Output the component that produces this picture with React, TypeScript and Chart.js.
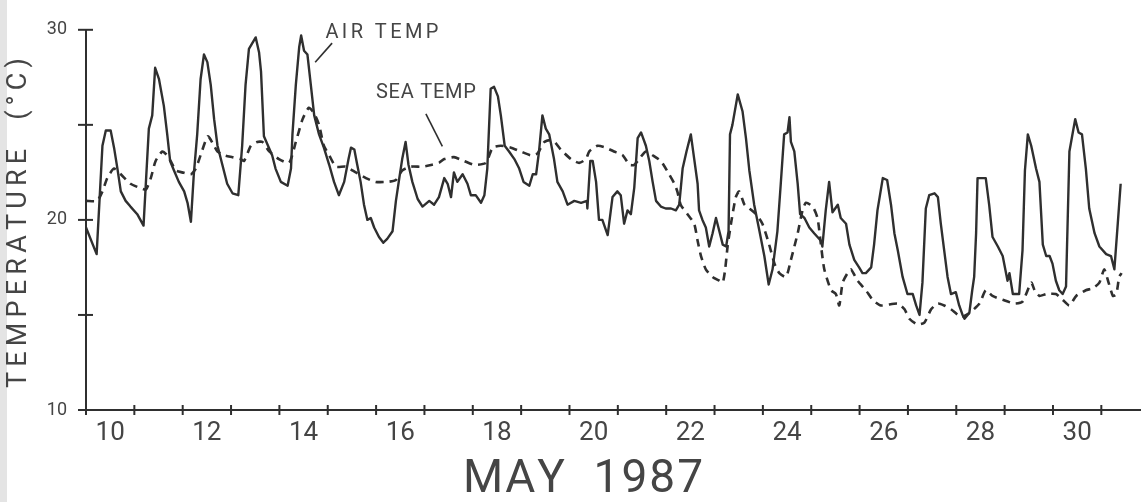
import React, { useEffect, useRef } from 'react';
import { Chart, registerables } from 'chart.js';

Chart.register(...registerables);

// ---- Data (day of May 1987 as decimal, temperature in °C) ----
const airDays = [
  10.0, 10.22, 10.34, 10.41, 10.51, 10.58, 10.65, 10.72, 10.82, 10.92, 11.06, 11.19,
  11.3, 11.37, 11.43, 11.51, 11.61, 11.68, 11.74, 11.82, 11.92, 12.03, 12.1, 12.17,
  12.23, 12.3, 12.37, 12.44, 12.51, 12.58, 12.65, 12.72, 12.82, 12.92, 13.03, 13.15,
  13.23, 13.3, 13.37, 13.51, 13.58, 13.62, 13.68, 13.85, 13.92, 14.03, 14.17, 14.24,
  14.27, 14.34, 14.41, 14.45, 14.51, 14.58, 14.65, 14.72, 14.82, 14.92, 15.03, 15.13,
  15.23, 15.34, 15.43, 15.48, 15.55, 15.61, 15.68, 15.75, 15.82, 15.89, 15.96, 16.06,
  16.15, 16.23, 16.34, 16.41, 16.48, 16.54, 16.61, 16.67, 16.75, 16.86, 16.96, 17.1,
  17.2, 17.3, 17.41, 17.48, 17.55, 17.61, 17.68, 17.79, 17.89, 17.96, 18.06, 18.17,
  18.24, 18.3, 18.37, 18.44, 18.52, 18.58, 18.66, 18.75, 18.86, 18.96, 19.05, 19.17,
  19.24, 19.31, 19.37, 19.44, 19.51, 19.58, 19.68, 19.75, 19.86, 19.96, 20.1, 20.24,
  20.36, 20.37, 20.43, 20.48, 20.55, 20.61, 20.68, 20.79, 20.89, 20.99, 21.06, 21.13,
  21.2, 21.27, 21.34, 21.41, 21.48, 21.58, 21.65, 21.72, 21.79, 21.89, 21.99, 22.1,
  22.2, 22.27, 22.34, 22.42, 22.51, 22.58, 22.65, 22.68, 22.75, 22.82, 22.89, 22.96,
  23.03, 23.1, 23.17, 23.24, 23.29, 23.32, 23.37, 23.48, 23.58, 23.65, 23.72, 23.82,
  23.93, 24.03, 24.12, 24.2, 24.3, 24.37, 24.44, 24.51, 24.55, 24.58, 24.65, 24.72,
  24.77, 24.86, 24.96, 25.06, 25.2, 25.23, 25.3, 25.37, 25.44, 25.55, 25.61, 25.72,
  25.79, 25.89, 25.99, 26.06, 26.13, 26.24, 26.3, 26.37, 26.48, 26.57, 26.65, 26.72,
  26.79, 26.89, 26.99, 27.1, 27.17, 27.24, 27.3, 27.37, 27.44, 27.55, 27.62, 27.68,
  27.75, 27.82, 27.89, 27.99, 28.06, 28.13, 28.17, 28.27, 28.33, 28.37, 28.41, 28.44,
  28.51, 28.61, 28.68, 28.75, 28.86, 28.96, 29.06, 29.1, 29.17, 29.3, 29.37, 29.42,
  29.48, 29.55, 29.65, 29.72, 29.79, 29.86, 29.93, 29.99, 30.06, 30.13, 30.2, 30.27,
  30.34, 30.41, 30.46, 30.53, 30.6, 30.68, 30.75, 30.86, 30.96, 31.1, 31.2, 31.27,
  31.34, 31.4,
];
const airTemps = [
  19.6, 18.2, 23.9, 24.7, 24.7, 23.8, 22.7, 21.5, 21.0, 20.7, 20.3, 19.7,
  24.8, 25.5, 28.0, 27.4, 26.0, 24.5, 23.1, 22.6, 22.0, 21.5, 20.9, 19.9,
  22.4, 24.5, 27.4, 28.7, 28.3, 27.1, 25.3, 23.9, 22.9, 21.9, 21.4, 21.3,
  23.9, 27.1, 29.0, 29.6, 28.8, 27.8, 24.4, 23.4, 22.7, 22.0, 21.8, 22.7,
  24.5, 27.1, 29.1, 29.7, 28.9, 28.7, 27.1, 25.5, 24.5, 23.8, 22.9, 22.0,
  21.3, 22.0, 23.2, 23.8, 23.7, 22.9, 22.0, 20.8, 20.0, 20.1, 19.6, 19.1,
  18.8, 19.0, 19.4, 21.0, 22.2, 23.2, 24.1, 22.9, 22.0, 21.1, 20.7, 21.0,
  20.8, 21.2, 22.2, 21.9, 21.2, 22.5, 22.0, 22.4, 21.9, 21.3, 21.3, 20.9,
  21.3, 22.7, 26.9, 27.0, 26.5, 25.5, 23.9, 23.6, 23.2, 22.7, 22.0, 21.8,
  22.4, 22.4, 23.6, 25.5, 24.8, 24.5, 23.2, 22.0, 21.5, 20.8, 21.0, 20.9,
  21.0, 20.6, 23.1, 23.1, 22.0, 20.0, 20.0, 19.2, 21.2, 21.5, 21.3, 19.8,
  20.5, 20.3, 21.7, 24.3, 24.6, 23.9, 23.1, 22.0, 21.0, 20.7, 20.6, 20.6,
  20.5, 20.8, 22.7, 23.6, 24.5, 23.2, 21.9, 20.5, 20.0, 19.6, 18.6, 19.3,
  20.1, 19.4, 18.7, 18.6, 19.4, 24.5, 25.0, 26.6, 25.7, 24.3, 22.6, 20.8,
  19.4, 18.1, 16.6, 17.4, 19.4, 21.9, 24.5, 24.6, 25.4, 24.1, 23.6, 21.9,
  20.3, 20.1, 19.6, 19.3, 18.9, 18.6, 20.5, 22.0, 20.4, 20.8, 20.1, 19.8,
  18.7, 17.9, 17.5, 17.2, 17.2, 17.5, 18.7, 20.5, 22.2, 22.1, 20.8, 19.3,
  18.4, 17.0, 16.1, 16.1, 15.5, 15.0, 16.7, 20.6, 21.3, 21.4, 21.2, 19.8,
  18.4, 17.0, 16.1, 16.2, 15.5, 15.0, 14.8, 15.1, 16.3, 17.0, 19.3, 22.2,
  22.2, 22.2, 20.8, 19.1, 18.6, 18.1, 16.8, 17.2, 16.1, 16.1, 18.4, 22.6,
  24.5, 23.9, 22.7, 22.0, 18.7, 18.1, 18.1, 17.7, 16.8, 16.3, 16.1, 16.5,
  23.6, 24.6, 25.3, 24.6, 24.5, 22.7, 20.6, 19.3, 18.6, 18.2, 18.1, 17.4,
  19.8, 21.9,
];

const seaDays = [
  10.0, 10.23, 10.34, 10.44, 10.58, 10.72, 10.92, 11.1, 11.24, 11.34, 11.44, 11.58,
  11.68, 11.75, 11.86, 11.99, 12.17, 12.27, 12.37, 12.52, 12.65, 12.72, 12.86, 13.03,
  13.2, 13.27, 13.41, 13.54, 13.65, 13.79, 13.99, 14.2, 14.34, 14.48, 14.61, 14.72,
  14.82, 14.92, 15.03, 15.17, 15.37, 15.58, 15.79, 15.99, 16.23, 16.41, 16.54, 16.72,
  16.96, 17.16, 17.3, 17.41, 17.61, 17.82, 18.03, 18.27, 18.41, 18.58, 18.79, 18.99,
  19.2, 19.34, 19.48, 19.65, 19.82, 20.03, 20.2, 20.34, 20.41, 20.58, 20.75, 20.92,
  21.1, 21.24, 21.34, 21.44, 21.58, 21.72, 21.89, 22.06, 22.17, 22.23, 22.3, 22.44,
  22.58, 22.65, 22.72, 22.82, 22.96, 23.1, 23.17, 23.22, 23.27, 23.34, 23.44, 23.51,
  23.62, 23.72, 23.86, 23.99, 24.13, 24.24, 24.34, 24.48, 24.58, 24.72, 24.82, 24.89,
  25.03, 25.13, 25.2, 25.27, 25.41, 25.51, 25.58, 25.65, 25.75, 25.82, 25.96, 26.13,
  26.27, 26.44, 26.79, 26.93, 27.03, 27.2, 27.34, 27.48, 27.62, 27.75, 27.89, 28.1,
  28.27, 28.48, 28.61, 28.75, 28.96, 29.2, 29.37, 29.55, 29.62, 29.72, 29.86, 30.06,
  30.2, 30.34, 30.48, 30.68, 30.82, 30.96, 31.06, 31.15, 31.24, 31.31, 31.37, 31.42,
];
const seaTemps = [
  21.0, 21.0, 21.5, 22.2, 22.7, 22.4, 21.9, 21.7, 21.6, 22.2, 23.1, 23.6,
  23.4, 23.1, 22.6, 22.5, 22.4, 22.7, 23.4, 24.4, 23.9, 23.6, 23.4, 23.3,
  23.2, 23.1, 23.9, 24.1, 24.1, 23.6, 23.2, 23.0, 24.1, 25.3, 25.9, 25.6,
  25.0, 23.9, 23.4, 22.8, 22.8, 22.5, 22.2, 22.0, 22.0, 22.1, 22.6, 22.8,
  22.8, 22.9, 23.0, 23.2, 23.3, 23.1, 22.9, 23.0, 23.8, 23.9, 23.8, 23.6,
  23.4, 23.5, 24.1, 24.2, 23.7, 23.2, 23.0, 23.2, 23.6, 23.9, 23.8, 23.6,
  23.4, 22.9, 22.9, 23.2, 23.6, 23.4, 23.1, 22.4, 21.9, 21.5, 20.8, 20.3,
  19.8, 18.9, 18.1, 17.4, 17.0, 16.8, 16.7, 17.4, 18.6, 19.8, 21.2, 21.5,
  20.8, 20.6, 20.3, 19.8, 18.7, 17.7, 17.2, 17.0, 17.9, 19.3, 20.5, 20.9,
  20.7, 20.1, 18.7, 17.4, 16.3, 16.1, 15.5, 16.7, 17.2, 17.4, 16.8, 16.3,
  15.8, 15.5, 15.6, 15.3, 14.8, 14.5, 14.6, 15.3, 15.6, 15.5, 15.3, 14.9,
  15.1, 15.6, 16.3, 16.0, 15.8, 15.6, 15.7, 16.7, 16.3, 16.0, 16.1, 16.1,
  15.8, 15.5, 16.0, 16.3, 16.4, 16.7, 17.4, 16.7, 16.0, 16.1, 17.0, 17.2,
];

const yTickMarks = [10, 15, 20, 25, 30];
const yLabelled = [10, 20, 30];
const dayBoundaries = [10, 11, 12, 13, 14, 15, 16, 17, 18, 19, 20, 21, 22, 23, 24, 25, 26, 27, 28, 29, 30, 31];
const dayLabels = ['10', '12', '14', '16', '18', '20', '22', '24', '26', '28', '30'];

const INK = '#2f2f2f';
const TEXT = '#454545';
const FONT = "Roboto, 'DejaVu Sans', sans-serif";

function spacedText(ctx: CanvasRenderingContext2D, text: string, cx: number, cy: number, width: number) {
  const chars = Array.from(text);
  const widths = chars.map((c) => ctx.measureText(c).width);
  const sum = widths.reduce((a, b) => a + b, 0);
  const gap = chars.length > 1 ? (width - sum) / (chars.length - 1) : 0;
  let x = cx - width / 2;
  ctx.textAlign = 'left';
  ctx.textBaseline = 'middle';
  chars.forEach((c, i) => {
    ctx.fillText(c, x, cy);
    x += widths[i] + gap;
  });
}

const decorPlugin = {
  id: 'decor',
  afterDraw(chart: any) {
    const ctx: CanvasRenderingContext2D = chart.ctx;
    const xs = chart.scales.x;
    const ys = chart.scales.y;
    const area = chart.chartArea;
    ctx.save();
    ctx.strokeStyle = INK;
    ctx.lineWidth = 2;
    // y tick marks crossing the axis
    yTickMarks.forEach((v) => {
      const py = ys.getPixelForValue(v);
      ctx.beginPath();
      ctx.moveTo(area.left - 8, py);
      ctx.lineTo(area.left + 7, py);
      ctx.stroke();
    });
    // x tick marks at day boundaries
    dayBoundaries.forEach((d) => {
      const px = xs.getPixelForValue(d);
      ctx.beginPath();
      ctx.moveTo(px, area.bottom - 5);
      ctx.lineTo(px, area.bottom + 5);
      ctx.stroke();
    });

    ctx.fillStyle = TEXT;
    // Y axis title
    ctx.save();
    ctx.translate(19, 223);
    ctx.rotate(-Math.PI / 2);
    ctx.font = `400 27px ${FONT}`;
    spacedText(ctx, 'TEMPERATURE  (°C)', 0, 0, 330);
    ctx.restore();

    // X axis title
    ctx.font = `400 46px ${FONT}`;
    spacedText(ctx, 'MAY  1987', 583, 480, 240);

    // Annotations
    const ann = [
      { text: 'AIR TEMP', x: 16.12, y: 29.85, w: 113, from: [15.09, 29.3], to: [14.74, 28.29] },
      { text: 'SEA TEMP', x: 17.03, y: 26.68, w: 100, from: [17.03, 25.58], to: [17.37, 23.87] },
    ];
    ctx.font = `400 20px ${FONT}`;
    ann.forEach((a) => {
      spacedText(ctx, a.text, xs.getPixelForValue(a.x), ys.getPixelForValue(a.y), a.w);
      ctx.lineWidth = 1.6;
      ctx.beginPath();
      ctx.moveTo(xs.getPixelForValue(a.from[0]), ys.getPixelForValue(a.from[1]));
      ctx.lineTo(xs.getPixelForValue(a.to[0]), ys.getPixelForValue(a.to[1]));
      ctx.stroke();
    });
    ctx.restore();
  },
};

export default function App() {
  const ref = useRef<HTMLCanvasElement | null>(null);

  useEffect(() => {
    if (!ref.current) return;
    const chart = new Chart(ref.current, {
      type: 'line',
      data: {
        datasets: [
          {
            label: 'AIR TEMP',
            data: airDays.map((d, i) => ({ x: d, y: airTemps[i] })),
            borderColor: INK,
            borderWidth: 2.4,
            pointRadius: 0,
            tension: 0,
            borderJoinStyle: 'round',
          },
          {
            label: 'SEA TEMP',
            data: seaDays.map((d, i) => ({ x: d, y: seaTemps[i] })),
            borderColor: INK,
            borderWidth: 2.6,
            borderDash: [8, 6],
            pointRadius: 0,
            tension: 0.2,
          },
        ],
      },
      options: {
        animation: false,
        responsive: false,
        devicePixelRatio: 1,
        layout: { padding: { top: 25, right: 6, left: 0, bottom: 0 } },
        plugins: { legend: { display: false }, tooltip: { enabled: false } },
        scales: {
          x: {
            type: 'linear',
            min: 10,
            max: 31.8,
            grid: { display: false, drawTicks: false },
            border: { display: true, color: INK, width: 2 },
            afterBuildTicks: (scale: any) => {
              scale.ticks = dayLabels.map((l) => ({ value: Number(l) + 0.5 }));
            },
            afterFit: (scale: any) => {
              scale.height = 92;
            },
            ticks: {
              autoSkip: false,
              maxRotation: 0,
              padding: 8,
              color: TEXT,
              font: { family: FONT, size: 26, weight: '400' },
              callback: (v: any) => String(Math.floor(Number(v))),
            },
          },
          y: {
            type: 'linear',
            min: 10,
            max: 30,
            grid: { display: false, drawTicks: false },
            border: { display: true, color: INK, width: 2 },
            afterBuildTicks: (scale: any) => {
              scale.ticks = yLabelled.map((v) => ({ value: v }));
            },
            afterFit: (scale: any) => {
              scale.width = 86;
            },
            ticks: {
              padding: 19,
              color: TEXT,
              font: { family: FONT, size: 18, weight: '400' },
              callback: (v: any) => String(v),
            },
          },
        },
      },
      plugins: [decorPlugin],
    } as any);
    return () => chart.destroy();
  }, []);

  return (
    <div
      style={{
        position: 'absolute',
        left: 0,
        top: 0,
        width: 1146,
        height: 502,
        background: 'linear-gradient(to right, #e4e4e4 0px, #e4e4e4 7px, #ffffff 7px)',
      }}
    >
      <canvas ref={ref} width={1146} height={502} style={{ display: 'block' }} />
    </div>
  );
}
